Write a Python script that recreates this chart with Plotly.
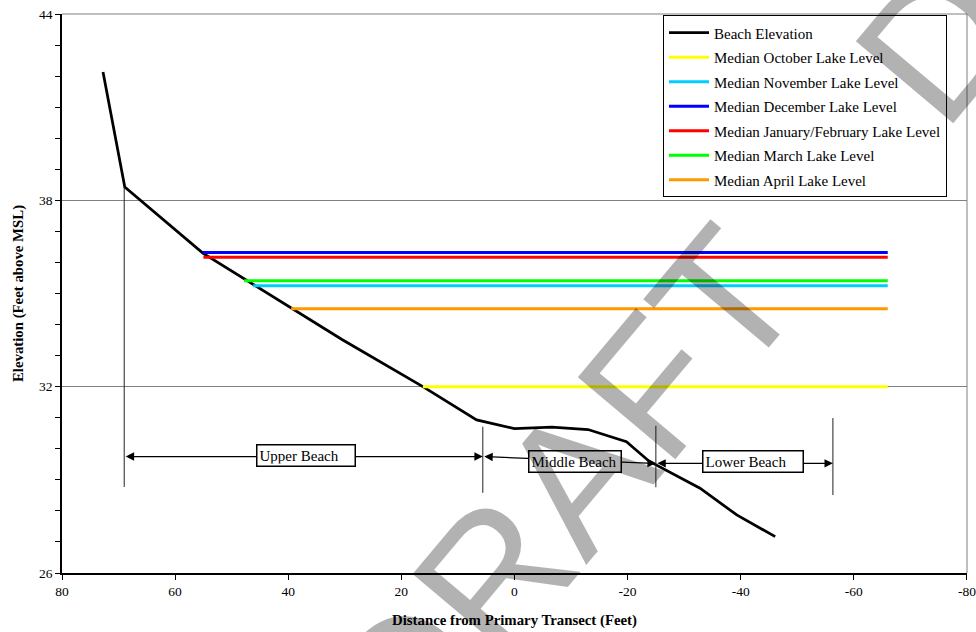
import plotly.graph_objects as go

# ---------------- data ----------------
beach_x = [72.75, 68.9, 55.1, 30.5, 16.2, 6.7, 0.0, -6.6, -13.0, -19.8, -23.8, -32.8, -39.3, -46.1]
beach_y = [42.13, 38.43, 36.3, 33.52, 32.0, 30.93, 30.65, 30.7, 30.62, 30.23, 29.6, 28.73, 27.87, 27.17]

lake_names = ["Median October Lake Level", "Median November Lake Level",
              "Median December Lake Level", "Median January/February Lake Level",
              "Median March Lake Level", "Median April Lake Level"]
lake_levels = [32.0, 35.25, 36.32, 36.17, 35.41, 34.51]
lake_start_x = [16.2, 46.2, 55.1, 55.0, 47.8, 39.5]
lake_end_x = [-66.0, -66.0, -66.0, -66.0, -66.0, -66.0]
lake_colors = ["#FFFF00", "#00CCFF", "#0000FF", "#FF0000", "#00FF00", "#FF9900"]

zone_x = [69.0, 5.6, -25.0, -56.3]
zone_top = [38.43, 30.71, 30.74, 30.99]
zone_bottom = [28.77, 28.58, 28.76, 28.51]
arrow_y_start = [29.75, 29.75, 29.53]
arrow_y_end = [29.75, 29.53, 29.53]
zone_labels = ["Upper Beach", "Middle Beach", "Lower Beach"]
label_x = [36.9, -10.75, -42.2]
label_y = [29.79, 29.58, 29.58]
label_w = [93, 87, 95]

x_ticks = [80, 60, 40, 20, 0, -20, -40, -60, -80]
y_ticks = [26, 32, 38, 44]

SERIF = "Liberation Serif"
WM_FONT = dict(family="Liberation Sans", size=185, color="rgba(0,0,0,0.3)")

fig = go.Figure()

fig.add_trace(go.Scatter(x=beach_x, y=beach_y, mode="lines", name="Beach Elevation",
                         line=dict(color="black", width=2.75), legendgroup="g0"))
for i, (nm, lv, x0, x1, c) in enumerate(zip(lake_names, lake_levels, lake_start_x, lake_end_x, lake_colors)):
    fig.add_trace(go.Scatter(x=[x0, x1], y=[lv, lv], mode="lines", name=nm,
                             line=dict(color=c, width=3), legendgroup=f"g{i+1}"))

# zone boundary lines
zx, zy = [], []
for x, t, b in zip(zone_x, zone_top, zone_bottom):
    zx += [x, x, None]
    zy += [t, b, None]
fig.add_trace(go.Scatter(x=zx, y=zy, mode="lines", line=dict(color="#222222", width=1),
                         showlegend=False, hoverinfo="skip"))

annotations = []
for i in range(3):
    annotations.append(dict(x=zone_x[i + 1], y=arrow_y_end[i], ax=zone_x[i], ay=arrow_y_start[i],
                            xref="x", yref="y", axref="x", ayref="y", text="",
                            showarrow=True, arrowside="end+start", arrowhead=2,
                            arrowsize=1.4, arrowwidth=1.2, arrowcolor="black",
                            standoff=0, startstandoff=0))
for i in range(3):
    annotations.append(dict(x=label_x[i], y=label_y[i], xref="x", yref="y", text=zone_labels[i],
                            showarrow=False, bgcolor="white", bordercolor="black", borderwidth=1.5,
                            borderpad=2, width=label_w[i], height=16, align="left",
                            font=dict(family=SERIF, size=15, color="black")))
# watermark
annotations.append(dict(x=0.5536, y=0.1438, xref="paper", yref="paper", text="DRAFT",
                        xanchor="center", yanchor="middle",
                        showarrow=False, textangle=-50, font=WM_FONT))
annotations.append(dict(x=1.1392, y=1.2809, xref="paper", yref="paper", text="DRAFT",
                        xanchor="center", yanchor="middle",
                        showarrow=False, textangle=-50, font=WM_FONT))

fig.update_layout(
    width=976, height=632,
    margin=dict(l=62, r=9, t=14, b=59),
    paper_bgcolor="white", plot_bgcolor="white",
    showlegend=True,
    legend=dict(x=0.6641, y=0.9975, xanchor="left", yanchor="top",
                bordercolor="black", borderwidth=1, bgcolor="white",
                font=dict(family=SERIF, size=15, color="black"),
                itemwidth=40,
                traceorder="grouped", tracegroupgap=2),
    xaxis=dict(range=[80, -80.01], tickvals=x_ticks, ticktext=[str(v) for v in x_ticks],
               ticks="outside", ticklen=5, tickcolor="black", showline=True, linecolor="black",
               linewidth=1.5, showgrid=False, zeroline=False, ticklabeloverflow="allow",
               automargin=False,
               tickfont=dict(family=SERIF, size=13.5, color="black"),
               title=dict(text="Distance from Primary Transect (Feet)", standoff=17,
                          font=dict(family=SERIF, size=14.8, color="black", weight="bold"))),
    yaxis=dict(range=[26, 44], tickvals=y_ticks, ticks="outside", ticklen=5, tickcolor="black",
               showline=True, linecolor="black", linewidth=1.5, showgrid=True,
               gridcolor="#808080", gridwidth=1, zeroline=False, automargin=False,
               minor=dict(dtick=1, tick0=26, ticks="outside", ticklen=5, tickcolor="black", showgrid=False),
               tickfont=dict(family=SERIF, size=13.5, color="black"),
               title=dict(text="Elevation (Feet above MSL)", standoff=12,
                          font=dict(family=SERIF, size=14.8, color="black", weight="bold"))),
    shapes=[dict(type="line", xref="paper", yref="paper", x0=1, x1=1, y0=0, y1=1,
                 line=dict(color="#808080", width=1)),
            dict(type="line", xref="paper", yref="paper", x0=0, x1=1, y0=1, y1=1,
                 line=dict(color="#808080", width=1))],
    annotations=annotations,
)

fig.write_html("out.html", config={"displayModeBar": False},
               post_script="document.body.style.margin='0';")
